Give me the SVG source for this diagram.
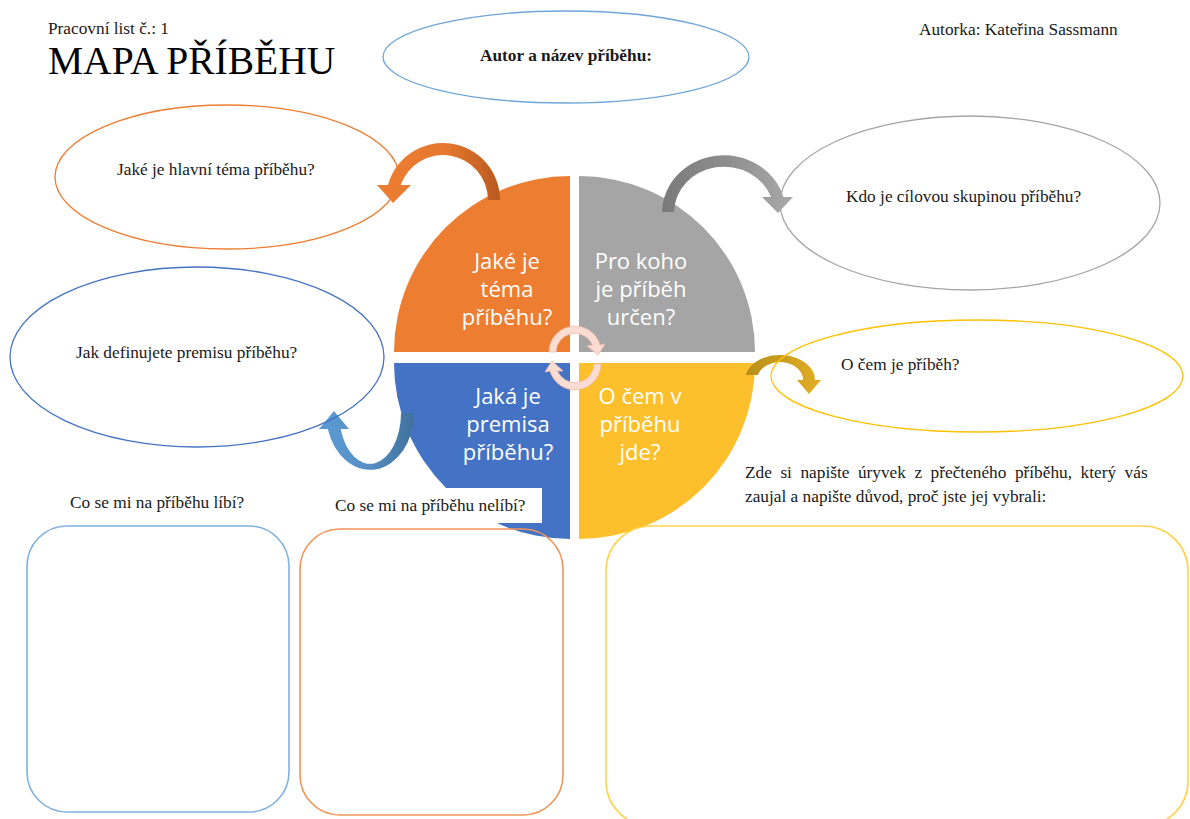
<svg xmlns="http://www.w3.org/2000/svg" width="1190" height="819" viewBox="0 0 1190 819">
<style>
.t{font-family:"Liberation Serif","Times New Roman",serif;font-size:17.3px;fill:#1a1a1a}
.q{font-family:"Open Sans","Noto Sans",sans-serif;font-size:22px;fill:#ffffff;text-anchor:middle}
.el{fill:none;stroke-width:1.3}
.box{fill:none;stroke-width:1.6}
.pink{fill:#FADCD2;stroke:#F2BBA8;stroke-width:0.8}
</style>
<defs>
<linearGradient id="gOr" x1="0" y1="0" x2="1" y2="0"><stop offset="0" stop-color="#ED7D31"/><stop offset="0.55" stop-color="#E6782F"/><stop offset="1" stop-color="#B95A1F"/></linearGradient>
<linearGradient id="gGr" x1="0" y1="0" x2="1" y2="0"><stop offset="0" stop-color="#7A7A7A"/><stop offset="0.5" stop-color="#8E8E8E"/><stop offset="1" stop-color="#A9A9A9"/></linearGradient>
<linearGradient id="gYe" x1="0" y1="0" x2="1" y2="0"><stop offset="0" stop-color="#B99019"/><stop offset="0.5" stop-color="#CC9E1F"/><stop offset="1" stop-color="#E3AE22"/></linearGradient>
<linearGradient id="gBl" x1="0" y1="0" x2="1" y2="0"><stop offset="0" stop-color="#5B9BD5"/><stop offset="0.5" stop-color="#5790C6"/><stop offset="1" stop-color="#41719C"/></linearGradient>
</defs>
<rect width="1190" height="819" fill="#ffffff"/>

<g id="header">
<text class="t" x="48" y="34" font-size="17">Pracovní list č.: 1</text>
<text x="48" y="74" font-family="Liberation Serif, Times New Roman, serif" font-size="39.5" fill="#000000">MAPA PŘÍBĚHU</text>
<text class="t" x="919" y="35">Autorka: Kateřina Sassmann</text>
</g>

<g id="center-wheel">
<path d="M570,352 L394,352 A176,176 0 0 1 570,176 Z" fill="#ED7D31"/>
<path d="M579,352 L579,176 A176,176 0 0 1 755,352 Z" fill="#A5A5A5"/>
<path d="M570,363 L570,539 A176,176 0 0 1 394,363 Z" fill="#4472C4"/>
<path d="M579,363 L755,363 A176,176 0 0 1 579,539 Z" fill="#FDBF2B"/>
<text class="q" x="507" y="269">Jaké je</text>
<text class="q" x="507" y="297">téma</text>
<text class="q" x="507" y="325">příběhu?</text>
<text class="q" x="641" y="269">Pro koho</text>
<text class="q" x="641" y="297">je příběh</text>
<text class="q" x="641" y="325">určen?</text>
<text class="q" x="508" y="404">Jaká je</text>
<text class="q" x="508" y="432">premisa</text>
<text class="q" x="508" y="460">příběhu?</text>
<text class="q" x="640" y="404">O čem v</text>
<text class="q" x="640" y="432">příběhu</text>
<text class="q" x="640" y="460">jde?</text>
<path class="pink" d="M549,352 A26,26 0 0 1 600,345 L605,344 L598,355 L587,346 L592.5,345 A19,19 0 0 0 556,352 Z"/>
<path class="pink" d="M601,364 A26,26 0 0 1 550,371 L545,372 L552,361 L563,371 L557.5,371 A19,19 0 0 0 594,364 Z"/>
</g>

<g id="connectors">
<path d="M500,200 A57,57 0 0 0 388,185 L377,185 L393,203 L411,185 L400.6,185 A45,45 0 0 1 488,200 Z" fill="url(#gOr)"/>
<path d="M662,212 A62,58 0 0 1 783.5,197 L793,197 L778,213 L762,197 L771,197 A50,46 0 0 0 674,212 Z" fill="url(#gGr)"/>
<path d="M745.7,375 A35,25 0 0 1 815,380 L821,380 L809,394 L797,380 L803,380 A23,18 0 0 0 757.9,375 Z" fill="url(#gYe)"/>
<path d="M414,413 A44,57 0 0 1 327.8,429 L319,429 L334,411 L349,429 L340.6,429 A31,51 0 0 0 401,413 Z" fill="url(#gBl)"/>
</g>

<g id="node-author">
<ellipse class="el" cx="566" cy="57" rx="183" ry="46" stroke="#6FA6D8"/>
<text class="t" x="566" y="61" text-anchor="middle" font-weight="bold" fill="#000000">Autor a název příběhu:</text>
</g>
<g id="node-tema">
<ellipse class="el" cx="227" cy="177" rx="172" ry="72" stroke="#ED7D31"/>
<text class="t" x="117" y="175">Jaké je hlavní téma příběhu?</text>
</g>
<g id="node-skupina">
<ellipse class="el" cx="970" cy="203" rx="190" ry="87" stroke="#A5A5A5"/>
<text class="t" x="846" y="202">Kdo je cílovou skupinou příběhu?</text>
</g>
<g id="node-premisa">
<ellipse class="el" cx="197" cy="357" rx="187" ry="90" stroke="#4472C4"/>
<text class="t" x="76" y="358">Jak definujete premisu příběhu?</text>
</g>
<g id="node-obsah">
<ellipse class="el" cx="977" cy="376" rx="206" ry="56" stroke="#FFC000"/>
<text class="t" x="841" y="370">O čem je příběh?</text>
</g>

<g id="node-libi">
<text class="t" x="70" y="508">Co se mi na příběhu líbí?</text>
<rect class="box" x="27" y="526" width="262" height="286" rx="40" stroke="#7FB2E0"/>
</g>
<g id="node-nelibi">
<rect x="325" y="488" width="217" height="35" fill="#ffffff"/>
<text class="t" x="335" y="511">Co se mi na příběhu nelíbí?</text>
<rect class="box" x="300" y="529" width="263" height="286" rx="40" stroke="#F0955A"/>
</g>
<g id="node-uryvek">
<text class="t" x="745" y="478" word-spacing="4.2">Zde si napište úryvek z přečteného příběhu, který vás</text>
<text class="t" x="745" y="502">zaujal a napište důvod, proč jste jej vybrali:</text>
<rect class="box" x="606" y="526" width="582" height="300" rx="45" stroke="#FFD24D"/>
</g>
</svg>
